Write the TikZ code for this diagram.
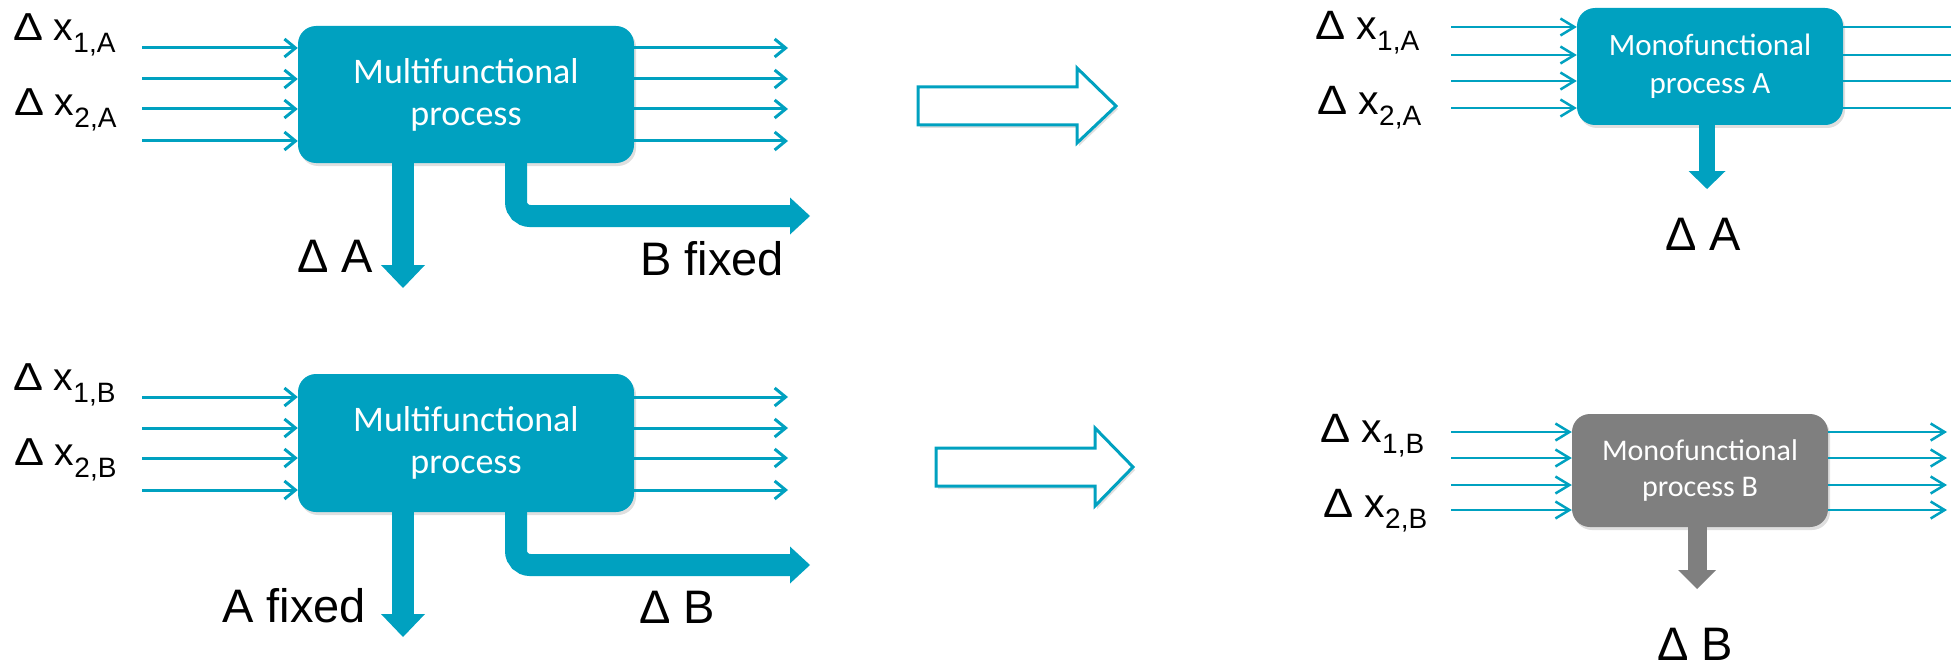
\documentclass[tikz,border=0pt]{standalone}
\usepackage{fontspec}
\usepackage{graphicx}
\setmainfont{Liberation Sans}
\newfontfamily\calib{Carlito}
\usetikzlibrary{arrows.meta,shadows,calc}
\definecolor{teal1}{HTML}{00A1C0}
\definecolor{grey1}{HTML}{7F7F7F}
\newcommand{\dxl}[2]{{\fontsize{39}{39}\selectfont\scalebox{1.15}[1]{Δ} x}\raisebox{-12pt}{\fontsize{28}{28}\selectfont #2}}
\newcommand{\dxr}[2]{{\fontsize{41}{41}\selectfont\scalebox{1.1}[1]{Δ} x}\raisebox{-11pt}{\fontsize{28}{28}\selectfont #2}}
\tikzset{
  procbox/.style={rectangle, rounded corners=18pt, fill=teal1, text=white, align=center, inner sep=0pt,
    drop shadow={shadow xshift=2pt, shadow yshift=-3pt, opacity=0.25}},
  thinL/.style={draw=teal1, line width=3pt, -{Straight Barb[length=11pt,width=18pt]}},
  thinR/.style={draw=teal1, line width=2.5pt, -{Straight Barb[length=14pt,width=17pt]}},
  thinRn/.style={draw=teal1, line width=2.5pt},
  bigarr/.style={draw=teal1, line width=22pt, -{Triangle[length=23pt,width=44pt,line width=0pt]}},
  hollowarr/.style={draw=teal1, fill=white, line width=3pt, line join=miter,
    drop shadow={shadow xshift=2pt, shadow yshift=-3pt, opacity=0.25}},
  lab/.style={anchor=base west, inner sep=0pt},
  biglab/.style={anchor=base west, inner sep=0pt, font=\fontsize{47}{47}\selectfont},
}
\begin{document}
\begin{tikzpicture}[x=1pt,y=-1pt]
\useasboundingbox (0,0) rectangle (1951,666);

% ---------- boxes ----------
\node[procbox, minimum width=336pt, minimum height=137pt,
      font=\calib\fontsize{36}{42}\selectfont] (boxA) at (466,94.5) {Multifunctional\\process};
\node[procbox, minimum width=336pt, minimum height=138pt,
      font=\calib\fontsize{36}{42}\selectfont] (boxB) at (466,443) {Multifunctional\\process};
\node[procbox, minimum width=266pt, minimum height=117pt,
      font=\calib\fontsize{31}{38}\selectfont] (boxC) at (1710,66.5) {Monofunctional\\process A};
\node[procbox, fill=grey1, minimum width=256pt, minimum height=113pt,
      font=\calib\fontsize{30}{36}\selectfont] (boxD) at (1700,470.5) {Monofunctional\\process B};

% ---------- thin flows, left panels ----------
\foreach \y [count=\i] in {48,79,109,141} {
  \coordinate (ai\i) at (142,\y);
  \coordinate (ao\i) at (788,\y);
  \draw[thinL] (ai\i) -- (ai\i -| boxA.west);
  \draw[thinL] (ao\i -| boxA.east) -- (ao\i);
}
\foreach \y [count=\i] in {397,428,458,490} {
  \coordinate (bi\i) at (142,\y);
  \coordinate (bo\i) at (788,\y);
  \draw[thinL] (bi\i) -- (bi\i -| boxB.west);
  \draw[thinL] (bo\i -| boxB.east) -- (bo\i);
}
% ---------- thin flows, right panels ----------
\foreach \y [count=\i] in {27,55,81,108} {
  \coordinate (ci\i) at (1451,\y);
  \coordinate (co\i) at (1951,\y);
  \draw[thinR] (ci\i) -- (ci\i -| boxC.west);
  \draw[thinRn] (co\i -| boxC.east) -- (co\i);
}
\foreach \y [count=\i] in {432,458,485,510} {
  \coordinate (di\i) at (1451,\y);
  \coordinate (do\i) at (1947,\y);
  \draw[thinR] (di\i) -- (di\i -| boxD.west);
  \draw[thinR] (do\i -| boxD.east) -- (do\i);
}

% ---------- thick product flows ----------
\coordinate (dA) at (403,288);
\coordinate (eA) at (810,216);
\coordinate (kA) at (516,216);
\draw[bigarr] ($(dA |- boxA.south)+(0,-3)$) -- (dA);
\draw[bigarr, -{Triangle[length=20pt,width=37pt,line width=0pt]}, rounded corners=14pt]
  ($(kA |- boxA.south)+(0,-3)$) |- (eA);

\coordinate (dB) at (403,637);
\coordinate (eB) at (810,565);
\coordinate (kB) at (516,565);
\draw[bigarr] ($(dB |- boxB.south)+(0,-3)$) -- (dB);
\draw[bigarr, -{Triangle[length=20pt,width=37pt,line width=0pt]}, rounded corners=14pt]
  ($(kB |- boxB.south)+(0,-3)$) |- (eB);

\coordinate (dC) at (1707,189);
\draw[bigarr, line width=16pt, -{Triangle[length=18pt,width=37pt,line width=0pt]}]
  ($(dC |- boxC.south)+(0,-3)$) -- (dC);
\coordinate (dD) at (1697,589);
\draw[bigarr, draw=grey1, line width=19pt, -{Triangle[length=19pt,width=38pt,line width=0pt]}]
  ($(dD |- boxD.south)+(0,-3)$) -- (dD);

% ---------- hollow transition arrows ----------
\draw[hollowarr] (918,87) -- (1077,87) -- (1077,68) -- (1116,106) -- (1077,143) -- (1077,125) -- (918,125) -- cycle;
\draw[hollowarr] (936,448) -- (1095,448) -- (1095,428) -- (1133,467) -- (1095,506) -- (1095,486) -- (936,486) -- cycle;

% ---------- labels ----------
\node[lab] (lA1) at (13,41) {\dxl{}{1,A}};
\node[lab] (lA2) at (14,116) {\dxl{}{2,A}};
\node[biglab] (lAdA) at (297,272) {Δ A};
\node[biglab] (lAfB) at (640,275) {B fixed};

\node[lab] (lB1) at (13,390) {\dxl{}{1,B}};
\node[lab] (lB2) at (14,465) {\dxl{}{2,B}};
\node[biglab] (lBfA) at (222,622) {A fixed};
\node[biglab] (lBdB) at (639,623) {Δ B};

\node[lab] (lC1) at (1315,40) {\dxr{}{1,A}};
\node[lab] (lC2) at (1317,115) {\dxr{}{2,A}};
\node[biglab] (lCdA) at (1665,250) {Δ A};

\node[lab] (lD1) at (1320,442) {\dxr{}{1,B}};
\node[lab] (lD2) at (1323,517) {\dxr{}{2,B}};
\node[biglab] (lDdB) at (1657,660) {Δ B};
\end{tikzpicture}
\end{document}
